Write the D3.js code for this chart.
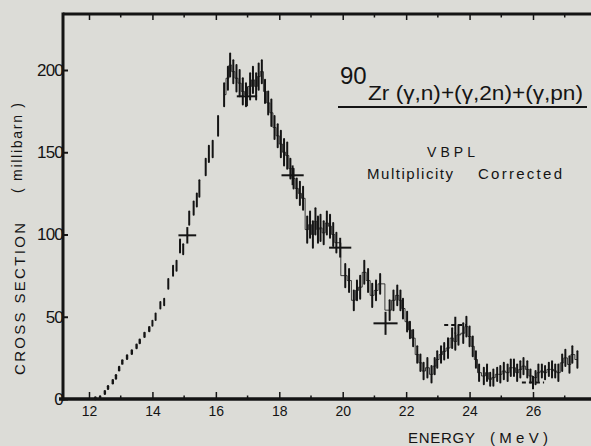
<!DOCTYPE html>
<html>
<head>
<meta charset="utf-8">
<script src="https://cdn.jsdelivr.net/npm/d3@7/dist/d3.min.js"></script>
<style>
  html, body { margin: 0; padding: 0; background: #dcdcd7; }
  svg { display: block; }
  text { font-family: "Liberation Sans", Arial, sans-serif; fill: #141414; }
</style>
</head>
<body>
<svg id="chart" width="591" height="446"></svg>
<script>
// ---- data ----
const energy = [12.2,12.35,12.5,12.6,12.75,12.85,12.95,13.05,13.2,13.35,13.5,13.6,13.75,13.9,14.0,14.1,14.25,14.37,14.5,14.65,14.76,14.87,14.97,15.16,15.3,15.4,15.48,15.68,15.78,15.9,16.07,16.26,16.38,16.45,16.55,16.65,16.75,16.85,16.95,17.08,17.17,17.27,17.35,17.45,17.55,17.65,17.75,17.85,17.95,18.05,18.15,18.25,18.35,18.45,18.55,18.65,18.75,18.88,18.97,19.06,19.14,19.22,19.3,19.4,19.5,19.6,19.7,19.8,20.08,20.2,20.35,20.45,20.55,20.68,20.8,20.93,21.05,21.18,21.48,21.6,21.72,21.82,21.9,22.03,22.12,22.22,22.35,22.45,22.55,22.67,22.8,22.9,22.98,23.1,23.2,23.32,23.45,23.55,23.65,23.8,23.9,24.0,24.1,24.2,24.3,24.45,24.55,24.65,24.75,24.87,24.97,25.08,25.2,25.3,25.4,25.5,25.6,25.7,25.82,25.92,26.08,26.17,26.28,26.38,26.5,26.6,26.7,26.8,26.92,27.02,27.15,27.24,27.4];
const sigma = [0.5,1,4,7,10.5,13.5,18.5,22.5,25.5,28.5,32,35,39,42.5,46,50,57,59,70,78,81,93,91,110,116,121,128,141,149,152,166,185,195,203,199,195,192,187,185,190,194,190,196,199,187,180,174,165,160,155,150,148,140,134,128,125,122,103,106,100,108,103,104,101,107,105,100,95,75,72,60,66,68,77,72,63,66,70,54,60,63,60,55,47,42,37,27,22,17,19,15,20,24,27,29,31,37,35,39,40,44,38,32,24,16,14,16,12,13,15,15,17,16,19,19,16,18,20,18,14,13,16,17,16,18,18,17,16,22,25,21,27,24];
const error = [0.5,0.5,0.8,0.8,1,1,1,1,1,1,1,1,1.2,1.2,1.5,2,2,2,3,3,3,4,3,4,4,4,5,5,5,5,6,7,7,7,7,8,8,8,7,8,8,8,8,7,7,7,8,7,7,8,8,8,6,6,6,7,7,8,8,8,8,8,8,7,7,7,7,6,7,7,6,6,7,7,7,7,6,6,6,6,6,6,6,6,5,5,5,5,5,6,5,5,5,5,5,6,6,5,6,6,6,6,6,5,5,5,5,4,5,4,5,5,5,5,5,5,5,5,5,4,4,5,4,4,4,5,4,5,5,5,5,5,5];
// representative error crosses: energy, value, half-width (MeV), half-height (mb), dashed
const crossE    = [15.1, 16.98, 18.42, 19.92, 21.35, 23.55, 26.0];
const crossV    = [99.5, 184, 136, 92, 46, 45, 10];
const crossDE   = [0.28, 0.32, 0.35, 0.35, 0.38, 0.35, 0.35];
const crossDV   = [5, 6, 6, 6, 7, 5, 4];
const crossDash = [false, false, false, false, false, true, true];
const xTicks = [12, 14, 16, 18, 20, 22, 24, 26];
const yTicks = [0, 50, 100, 150, 200];

// ---- layout ----
const svg = d3.select("#chart");
const ink = "#141414";
const x = d3.scaleLinear().domain([12, 26]).range([89, 533]);
const y = d3.scaleLinear().domain([0, 200]).range([399, 70]);
const pLeft = 63, pRight = 591, pTop = 14, pBottom = 399;

// frame lines
svg.append("line").attr("x1", pLeft).attr("x2", pLeft).attr("y1", pTop - 1.5).attr("y2", pBottom + 1.5)
  .attr("stroke", ink).attr("stroke-width", 3);
svg.append("line").attr("x1", pLeft - 4).attr("x2", pRight).attr("y1", pBottom).attr("y2", pBottom)
  .attr("stroke", ink).attr("stroke-width", 3.5);
svg.append("line").attr("x1", pLeft).attr("x2", pRight).attr("y1", pTop).attr("y2", pTop)
  .attr("stroke", ink).attr("stroke-width", 3);

// bottom axis (ticks pointing up, into the plot)
const xAxis = d3.axisBottom(x).tickValues(xTicks).tickSize(-7).tickPadding(7).tickFormat(d3.format("d"));
const gx = svg.append("g").attr("transform", `translate(0,${pBottom})`).call(xAxis);
gx.select(".domain").remove();
gx.selectAll(".tick line").attr("stroke", ink).attr("stroke-width", 1.5);
gx.selectAll(".tick text").style("font-size", "14px").attr("fill", ink);
// minor ticks at odd MeV
const minorX = [11, 13, 15, 17, 19, 21, 23, 25, 27].filter(v => x(v) > pLeft && x(v) < pRight);
svg.append("g").selectAll("line").data(minorX).join("line")
  .attr("x1", d => x(d)).attr("x2", d => x(d)).attr("y1", pBottom).attr("y2", pBottom - 3.5)
  .attr("stroke", ink).attr("stroke-width", 1.5);

// top axis ticks (pointing down)
const xTop = d3.axisTop(x).tickValues(xTicks).tickSize(-6).tickFormat("");
const gt = svg.append("g").attr("transform", `translate(0,${pTop})`).call(xTop);
gt.select(".domain").remove();
gt.selectAll(".tick line").attr("stroke", ink).attr("stroke-width", 1.5);
svg.append("g").selectAll("line").data(minorX).join("line")
  .attr("x1", d => x(d)).attr("x2", d => x(d)).attr("y1", pTop).attr("y2", pTop + 3.5)
  .attr("stroke", ink).attr("stroke-width", 1.5);

// left axis (ticks pointing right)
const yAxis = d3.axisLeft(y).tickValues(yTicks).tickSize(-5).tickPadding(0);
const gy = svg.append("g").attr("transform", `translate(${pLeft},0)`).call(yAxis);
gy.select(".domain").remove();
gy.selectAll(".tick line").attr("stroke", ink).attr("stroke-width", 2);
gy.selectAll(".tick text").style("font-size", "17px").attr("fill", ink).attr("letter-spacing", "-0.8");

// axis titles
svg.append("text").attr("x", 408).attr("y", 443).style("font-size", "15px").attr("textLength", 67).text("ENERGY");
svg.append("text").attr("x", 490).attr("y", 443).style("font-size", "15px").attr("textLength", 58).text("(MeV)");
svg.append("text").attr("transform", "translate(25,299) rotate(-90)").attr("text-anchor", "middle")
  .style("font-size", "15px").attr("textLength", 152).text("CROSS  SECTION");
svg.append("text").attr("transform", "translate(22,148) rotate(-90)").attr("text-anchor", "middle")
  .style("font-size", "14px").attr("textLength", 90).text("( millibarn )");

// title / annotation
svg.append("text").attr("x", 340).attr("y", 84).style("font-size", "24px").text("90");
svg.append("text").attr("x", 368).attr("y", 100).style("font-size", "20px")
  .attr("textLength", 215).attr("lengthAdjust", "spacingAndGlyphs").text("Zr (γ,n)+(γ,2n)+(γ,pn)");
svg.append("line").attr("x1", 338).attr("x2", 587).attr("y1", 107).attr("y2", 107).attr("stroke", ink).attr("stroke-width", 2);
svg.append("text").attr("x", 427).attr("y", 157).style("font-size", "14px").attr("textLength", 48).text("VBPL");
svg.append("text").attr("x", 367).attr("y", 179).style("font-size", "15px").attr("textLength", 86).text("Multiplicity");
svg.append("text").attr("x", 478).attr("y", 179).style("font-size", "15px").attr("textLength", 84).text("Corrected");

// ---- data marks ----
const pts = energy.map((e, i) => ({e, v: sigma[i], err: error[i]}));
const plot = svg.append("g");
// thin step line connecting the data in the upper region
const stepPts = pts.filter(d => d.e >= 16.2);
plot.append("path").datum(stepPts)
  .attr("d", d3.line().x(d => x(d.e)).y(d => y(d.v)).curve(d3.curveStep))
  .attr("fill", "none").attr("stroke", ink).attr("stroke-width", 0.8);
// vertical error bars
plot.selectAll("line.bar").data(pts).join("line").attr("class", "bar")
  .attr("x1", d => x(d.e)).attr("x2", d => x(d.e))
  .attr("y1", d => y(d.v + d.err)).attr("y2", d => y(d.v - d.err))
  .attr("stroke", ink).attr("stroke-width", d => d.e < 14 ? 2.4 : 2).attr("stroke-linecap", "round");

// crosses
const crosses = crossE.map((e, i) => ({e, v: crossV[i], de: crossDE[i], dv: crossDV[i], dash: crossDash[i]}));
const cg = plot.selectAll("g.cross").data(crosses).join("g").attr("class", "cross");
cg.append("line").attr("x1", d => x(d.e - d.de)).attr("x2", d => x(d.e + d.de))
  .attr("y1", d => y(d.v)).attr("y2", d => y(d.v))
  .attr("stroke", ink).attr("stroke-width", 2).attr("stroke-dasharray", d => d.dash ? "4,3" : null);
cg.append("line").attr("x1", d => x(d.e)).attr("x2", d => x(d.e))
  .attr("y1", d => y(d.v + d.dv)).attr("y2", d => y(d.v - d.dv))
  .attr("stroke", ink).attr("stroke-width", 2);
</script>
</body>
</html>
